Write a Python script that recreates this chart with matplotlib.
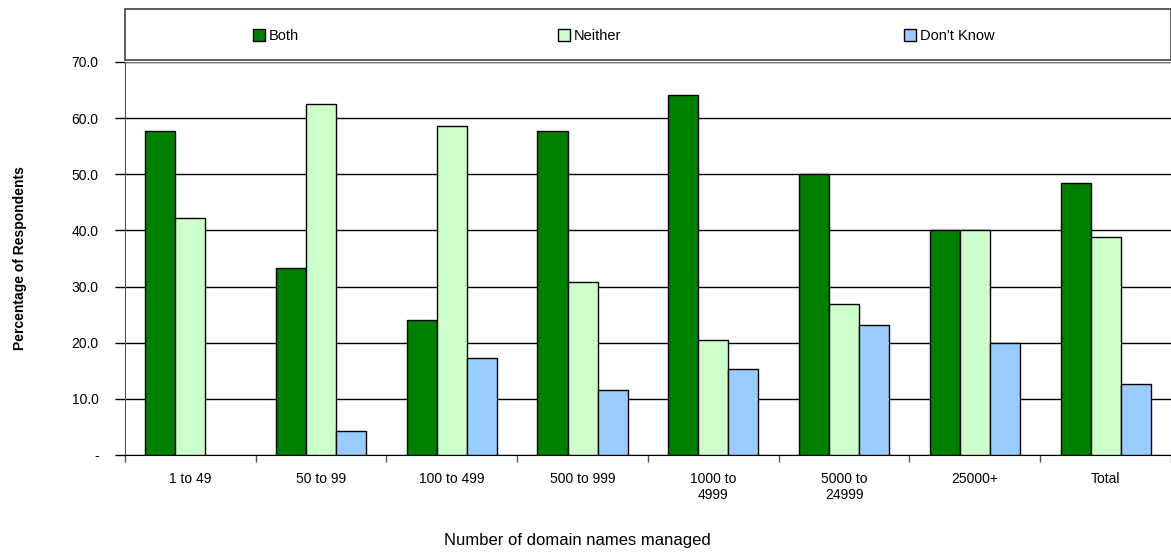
import numpy as np
import matplotlib
matplotlib.use("Agg")
import matplotlib.pyplot as plt
from matplotlib.patches import Rectangle, Patch

plt.rcParams['font.family'] = ['Liberation Sans', 'DejaVu Sans']

categories = ['1 to 49', '50 to 99', '100 to 499', '500 to 999',
              '1000 to\n4999', '5000 to\n24999', '25000+', 'Total']
both = [57.7, 33.3, 24.1, 57.7, 64.1, 50.0, 40.0, 48.4]
neither = [42.3, 62.5, 58.6, 30.8, 20.5, 26.9, 40.0, 38.9]
dont_know = [0.0, 4.2, 17.2, 11.5, 15.4, 23.1, 20.0, 12.7]
series_names = ['Both', 'Neither', "Don't Know"]
colors = ['#008000', '#CCFFCC', '#99CCFF']
y_ticks = [0, 10, 20, 30, 40, 50, 60, 70]
y_labels = ['-', '10.0', '20.0', '30.0', '40.0', '50.0', '60.0', '70.0']


def main():
    fig = plt.figure(figsize=(11.71, 5.52), dpi=100)
    ax = fig.add_axes([0.1067, 0.1757, 0.8933, 0.712])

    x = np.arange(len(categories))
    width = 0.23
    for i, (vals, name, col) in enumerate(zip([both, neither, dont_know], series_names, colors)):
        b = ax.bar(x + (i - 1) * width, vals, width, color=col, edgecolor='black',
                   linewidth=1, label=name, zorder=3)
        # zero-height bars are not drawn in the original
        for rect in b:
            if rect.get_height() == 0:
                rect.set_visible(False)

    ax.set_xlim(-0.5, len(categories) - 0.5)
    ax.set_ylim(0, 70)
    ax.set_yticks(y_ticks)
    ax.set_yticklabels(y_labels, fontsize=10)
    ax.yaxis.grid(True, color='black', linewidth=1, zorder=0)
    ax.tick_params(axis='y', direction='out', length=7, width=1, pad=12)

    # category labels in the middle, ticks on boundaries
    ax.set_xticks(x)
    ax.set_xticklabels(categories, fontsize=10)
    ax.tick_params(axis='x', length=0, pad=12)
    ax.set_xticks(np.arange(len(categories) + 1) - 0.5, minor=True)
    ax.tick_params(axis='x', which='minor', direction='out', length=5, width=1, color='#555555')

    ax.spines['right'].set_visible(False)
    ax.spines['top'].set_color('#777777')
    ax.spines['left'].set_color('#555555')
    ax.spines['bottom'].set_color('black')

    ax.set_ylabel('Percentage of Respondents', fontsize=10, fontweight='bold', labelpad=32)
    fig.text(577 / 1171, 1 - 540 / 552, 'Number of domain names managed', fontsize=12,
             ha='center', va='center')

    # legend box across the top
    fig.patches.append(Rectangle((125 / 1171, 1 - 60 / 552), 1 - 125 / 1171, 51 / 552,
                                 transform=fig.transFigure, facecolor='white',
                                 edgecolor='#444444', linewidth=1.2))
    legend_x = [240, 545, 891]
    for col, name, lx in zip(colors, series_names, legend_x):
        handle = Patch(facecolor=col, edgecolor='black', linewidth=1)
        fig.legend(handles=[handle], labels=[name], loc='center left',
                   bbox_to_anchor=(lx / 1171, 1 - 36 / 552), frameon=False,
                   fontsize=10.5, handlelength=0.8, handleheight=0.8, handletextpad=0.3)

    fig.savefig('out.png', dpi=100)


if __name__ == '__main__':
    main()
